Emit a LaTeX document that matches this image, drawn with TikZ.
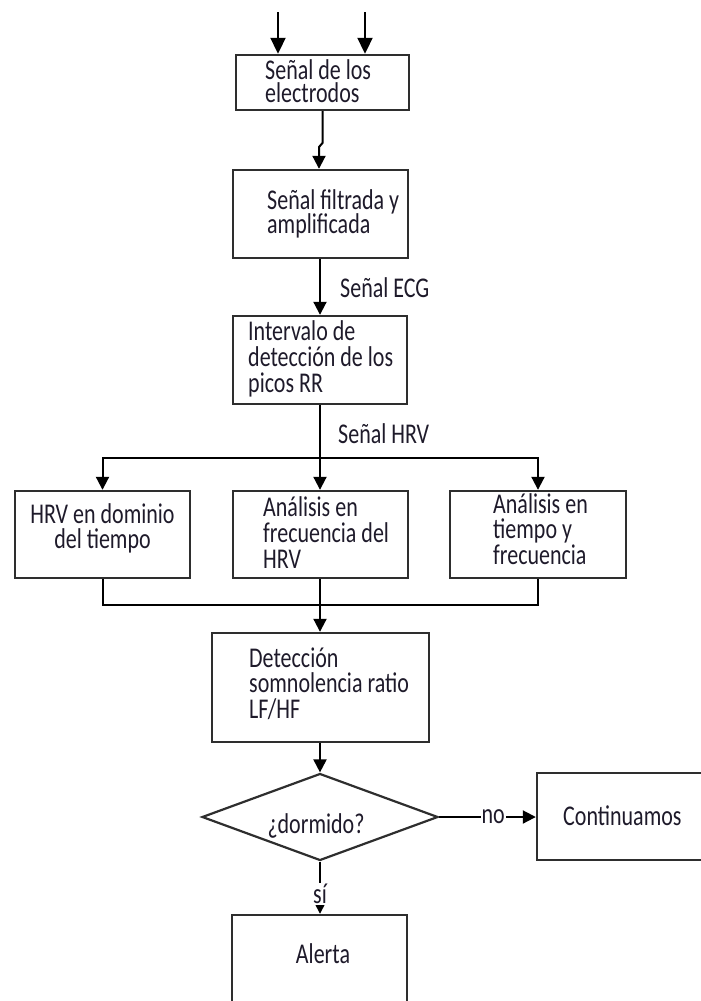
\documentclass[tikz,border=0pt]{standalone}
\usepackage{fontspec}
\setmainfont{Carlito}
\usetikzlibrary{shapes.geometric,arrows.meta}
\definecolor{ink}{HTML}{1E1A2A}
\definecolor{frame}{HTML}{2E2E2E}
\newcommand{\boxfont}[1]{\fontsize{22}{#1}\selectfont\lineskiplimit=-30pt\relax}
\tikzset{
  box/.style={draw=frame, line width=2.4pt, rectangle, inner sep=0pt},
  decision/.style={draw=frame, line width=2.2pt, diamond, aspect=2.7, inner sep=0pt},
  arr/.style={draw=black, line width=2pt, -{Triangle[length=13pt,width=13pt]}},
  bigarr/.style={arr, -{Triangle[length=16pt,width=15pt]}},
  link/.style={draw=black, line width=2pt},
  % multi-line texts are anchored at the baseline of their last line
  txt/.style={anchor=base west, inner sep=0pt, text=ink, align=left,
    font=\boxfont{19.6}, yscale=1.3, transform shape},
  txtc/.style={txt, align=center, anchor=base},
  lbl/.style={fill=white, inner sep=1pt, text=ink,
    font=\boxfont{19.6}, yscale=1.3, transform shape},
}
\begin{document}
\begin{tikzpicture}[x=1pt,y=-1pt]
\useasboundingbox (0,0) rectangle (701,1001);

% process boxes
\node[box, minimum width=173, minimum height=55] (b1) at (322.5,82.5) {};
\node[box, minimum width=175, minimum height=88] (b2) at (320.5,214) {};
\node[box, minimum width=174, minimum height=88] (b3) at (320,360) {};
\node[box, minimum width=175, minimum height=87] (bl) at (102.5,534.5) {};
\node[box, minimum width=175, minimum height=87] (bm) at (320.5,534.5) {};
\node[box, minimum width=176, minimum height=87] (br) at (538,534.5) {};
\node[box, minimum width=217, minimum height=109] (bd) at (320.5,687.5) {};
\node[decision, minimum width=236, minimum height=87] (dia) at (320,817) {};
\node[box, minimum width=173, minimum height=87] (bc) at (623.5,816.5) {};
\node[box, minimum width=175, minimum height=100] (ba) at (319.5,965) {};

% box texts
\node[txt, font=\boxfont{17}] (t1) at (265,102) {Señal de los\\electrodos};
\node[txt, font=\boxfont{17.7}] (t2) at (267,233) {Señal filtrada y\\amplificada};
\node[txt, font=\boxfont{20}] (t3) at (248,392) {Intervalo de\\detección de los\\picos RR};
\node[txtc, font=\boxfont{19.2}] (tl) at (102.5,548) {HRV en dominio\\del tiempo};
\node[txt, font=\boxfont{20}] (tm) at (263,568) {Análisis en\\frecuencia del\\HRV};
\node[txt] (tr) at (493,564) {Análisis en\\tiempo y\\frecuencia};
\node[txt] (td) at (249,718) {Detección\\somnolencia ratio\\LF/HF};
\node[txtc] (tq) at (316,833) {¿dormido?};
\node[txt] (tc) at (563,825) {Continuamos};
\node[txtc] (ta) at (323,963) {Alerta};

% inputs
\coordinate (in1) at (278,12);
\coordinate (in2) at (365,12);
\draw[bigarr] (in1) -- (in1 |- b1.north);
\draw[bigarr] (in2) -- (in2 |- b1.north);

% main chain
\coordinate (jog) at (319,147);
\draw[arr] (b1.south) -- (322.5,143) -- (jog) -- (jog |- b2.north);
\draw[arr] (b3.north |- b2.south) -- (b3.north);
\node[txt] (lecg) at (340,297) {Señal ECG};

% split to the three analyses
\coordinate (split) at (320,458);
\draw[link] (b3.south) -- (split);
\node[txt] (lhrv) at (338,443) {Señal HRV};
\draw[arr] (split) -| (bl.north);
\draw[arr] (split) -| (br.north);
\draw[arr] (split) -- (split |- bm.north);

% merge into detection
\coordinate (merge) at (320,605);
\draw[link] (bl.south) |- (merge);
\draw[link] (br.south) |- (merge);
\draw[link] (merge |- bm.south) -- (merge);
\draw[arr] (merge) -- (merge |- bd.north);

% decision
\draw[arr] (dia.north |- bd.south) -- (dia.north);
\draw[arr] (dia.east) -- (dia.east -| bc.west)
  node[lbl, pos=0.56] (lno) {no};
\draw[arr] (dia.south) -- (dia.south |- ba.north)
  node[lbl, pos=0.62] (lsi) {sí};
\end{tikzpicture}
\end{document}
